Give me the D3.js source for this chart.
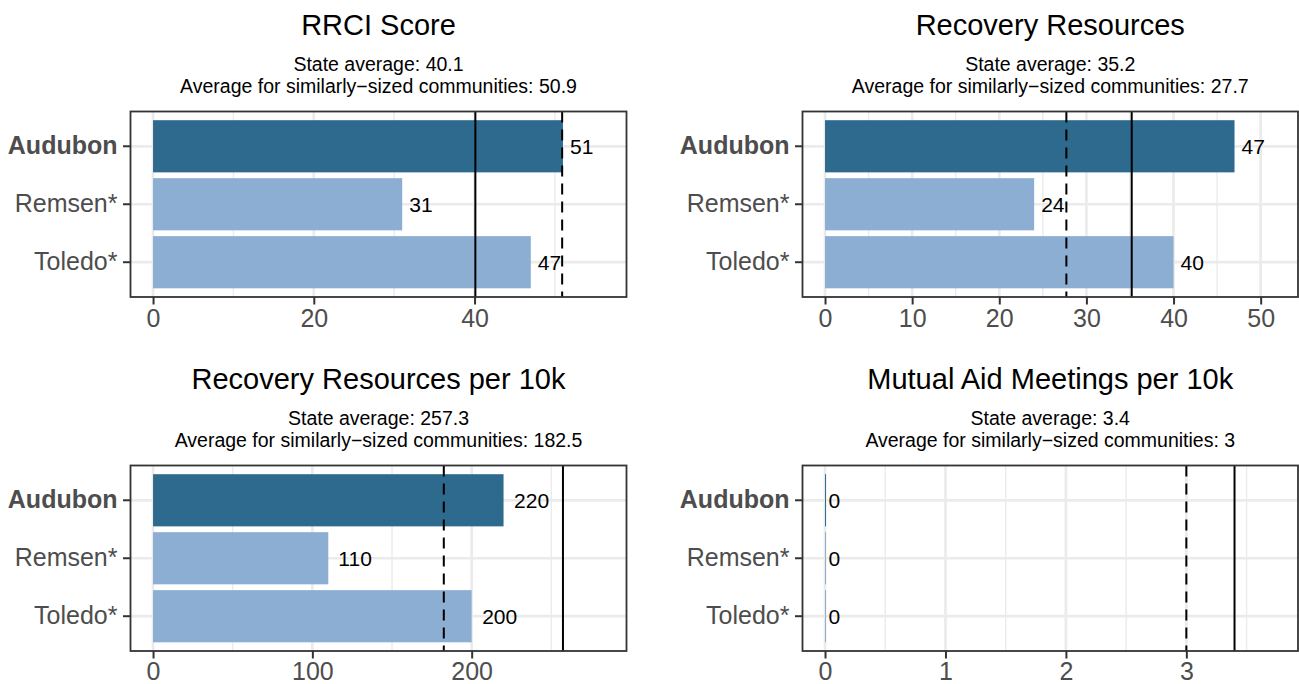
<!DOCTYPE html>
<html>
<head>
<meta charset="utf-8">
<script src="https://cdn.jsdelivr.net/npm/d3@7"></script>
<style>
  html, body { margin: 0; padding: 0; background: #ffffff; }
  svg { display: block; font-family: "Liberation Sans", Arial, Helvetica, sans-serif; }
</style>
</head>
<body>
<svg id="chart" width="1299" height="684"></svg>
<script>
// ---------------- data ----------------
const categories = ["Audubon", "Remsen*", "Toledo*"];
const highlight = "Audubon";

const panelTitles = ["RRCI Score", "Recovery Resources", "Recovery Resources per 10k", "Mutual Aid Meetings per 10k"];

const rrciScore = [51, 31, 47];
const recoveryResources = [47, 24, 40];
const resourcesPer10k = [220, 110, 200];
const mutualAidPer10k = [0, 0, 0];

const stateAverage = [40.1, 35.2, 257.3, 3.4];
const similarAverage = [50.9, 27.7, 182.5, 3];

const xTicks1 = [0, 20, 40];
const xTicks2 = [0, 10, 20, 30, 40, 50];
const xTicks3 = [0, 100, 200];
const xTicks4 = [0, 1, 2, 3];

const seriesValues = [rrciScore, recoveryResources, resourcesPer10k, mutualAidPer10k];
const tickSets = [xTicks1, xTicks2, xTicks3, xTicks4];

// ---------------- style ----------------
const colDark = "#2E6A8E";
const colLight = "#8CAED2";
const gridCol = "#EBEBEB";
const axisTextCol = "#4D4D4D";
const borderCol = "#333333";
const fontAxis = 25;
const fontTitle = 29;
const fontSub = 19.5;
const fontLabel = 21;

// panel boxes [x0, x1, y0, y1]
const cols = [[130.5, 626.5], [802.5, 1298]];
const rows = [[111.5, 297], [465.5, 651]];

const svg = d3.select("#chart");

seriesValues.forEach((vals, i) => {
  const [x0, x1] = cols[i % 2];
  const rowIdx = Math.floor(i / 2);
  const [y0, y1] = rows[rowIdx];
  const g = svg.append("g");

  const lim = Math.max(d3.max(vals), stateAverage[i], similarAverage[i]) * 1.1;
  const x = d3.scaleLinear().domain([-0.05 * lim, 1.05 * lim]).range([x0, x1]);
  const y = d3.scaleBand().domain(categories).range([y0, y1]).paddingInner(0.1).paddingOuter(0.15);

  const ticks = tickSets[i];
  const step = ticks[1] - ticks[0];
  const minor = [ticks[0] - step / 2].concat(ticks.map(t => t + step / 2))
    .filter(t => t > x.domain()[0] && t < x.domain()[1]);

  // minor vertical grid
  g.selectAll(".minor").data(minor).join("line")
    .attr("x1", d => x(d)).attr("x2", d => x(d))
    .attr("y1", y0).attr("y2", y1)
    .attr("stroke", gridCol).attr("stroke-width", 1.4);
  // major vertical grid
  g.selectAll(".major").data(ticks).join("line")
    .attr("x1", d => x(d)).attr("x2", d => x(d))
    .attr("y1", y0).attr("y2", y1)
    .attr("stroke", gridCol).attr("stroke-width", 2.7);
  // horizontal grid
  g.selectAll(".hgrid").data(categories).join("line")
    .attr("x1", x0).attr("x2", x1)
    .attr("y1", d => y(d) + y.bandwidth() / 2).attr("y2", d => y(d) + y.bandwidth() / 2)
    .attr("stroke", gridCol).attr("stroke-width", 2.7);

  // bars
  const data = categories.map((c, k) => ({ cat: c, v: vals[k] }));
  g.selectAll(".bar").data(data).join("rect")
    .attr("x", d => x(0)).attr("width", d => Math.max(x(d.v) - x(0), 1))
    .attr("y", d => y(d.cat)).attr("height", y.bandwidth())
    .attr("fill", d => d.cat === highlight ? colDark : colLight);

  // reference lines
  g.append("line")
    .attr("x1", x(stateAverage[i])).attr("x2", x(stateAverage[i]))
    .attr("y1", y0).attr("y2", y1)
    .attr("stroke", "#000").attr("stroke-width", 2);
  g.append("line")
    .attr("x1", x(similarAverage[i])).attr("x2", x(similarAverage[i]))
    .attr("y1", y0).attr("y2", y1)
    .attr("stroke", "#000").attr("stroke-width", 2)
    .attr("stroke-dasharray", "11,7");

  // value labels (hjust ~ -0.3)
  g.selectAll(".lab").data(data).join("text")
    .attr("y", d => y(d.cat) + y.bandwidth() / 2)
    .attr("dy", "0.36em")
    .attr("font-size", fontLabel)
    .attr("fill", "#000")
    .text(d => d3.format(".0f")(d.v))
    .each(function(d) {
      const w = this.getComputedTextLength();
      d3.select(this).attr("x", x(d.v) + 0.3 * w);
    });

  // panel border
  g.append("rect")
    .attr("x", x0).attr("y", y0).attr("width", x1 - x0).attr("height", y1 - y0)
    .attr("fill", "none").attr("stroke", borderCol).attr("stroke-width", 1.8);

  // x axis
  const xa = g.append("g").attr("transform", `translate(0,${y1})`)
    .call(d3.axisBottom(x).tickValues(ticks).tickSize(7.5)
      .tickPadding(rowIdx === 1 ? 3.5 : 5).tickFormat(d3.format("d")));
  xa.select(".domain").remove();
  xa.selectAll(".tick line").attr("stroke", borderCol).attr("stroke-width", 2);
  xa.selectAll(".tick text").attr("font-size", fontAxis).attr("fill", axisTextCol)
    .attr("font-family", "Liberation Sans, Arial, sans-serif");

  // y axis
  const ya = g.append("g").attr("transform", `translate(${x0},0)`)
    .call(d3.axisLeft(y).tickSize(7.5).tickPadding(5.5));
  ya.select(".domain").remove();
  ya.selectAll(".tick line").attr("stroke", borderCol).attr("stroke-width", 2);
  ya.selectAll(".tick text").attr("font-size", fontAxis).attr("fill", axisTextCol)
    .attr("font-family", "Liberation Sans, Arial, sans-serif")
    .attr("font-weight", d => d === highlight ? "bold" : "normal");

  // titles
  const cx = (x0 + x1) / 2;
  g.append("text").attr("x", cx).attr("y", y0 - 76.5)
    .attr("text-anchor", "middle").attr("font-size", fontTitle).attr("fill", "#000")
    .text(panelTitles[i]);
  g.append("text").attr("x", cx).attr("y", y0 - 40.5)
    .attr("text-anchor", "middle").attr("font-size", fontSub).attr("fill", "#000")
    .text("State average: " + stateAverage[i]);
  g.append("text").attr("x", cx).attr("y", y0 - 18.2)
    .attr("text-anchor", "middle").attr("font-size", fontSub).attr("fill", "#000")
    .text("Average for similarly\u2212sized communities: " + similarAverage[i]);
});
</script>
</body>
</html>
